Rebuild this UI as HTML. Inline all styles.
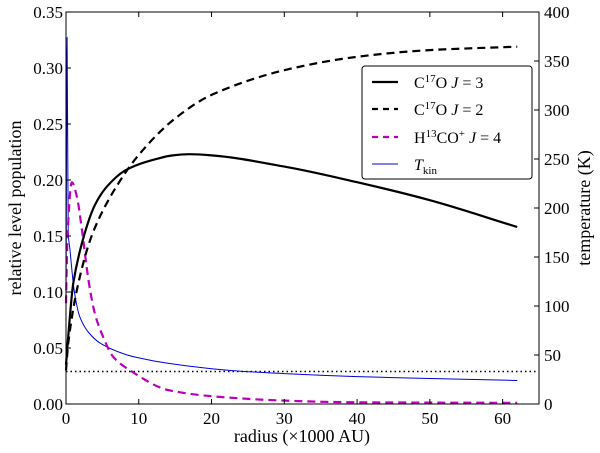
<!DOCTYPE html>
<html><head><meta charset="utf-8"><style>
body{margin:0;background:#fff;width:600px;height:448px;overflow:hidden}
text{font-family:"Liberation Serif",serif;fill:#000}
</style></head><body>
<svg id="chart" width="600" height="448"></svg>
<script>
const rJ3=[0,0.3,1,2.6,4,5.6,8,10,12,14.7,17,20,30,40,50,62];
const vJ3=[0.035,0.06,0.108,0.153,0.178,0.194,0.208,0.214,0.218,0.222,0.223,0.222,0.212,0.198,0.182,0.158];
const rJ2=[0,0.3,1.7,3.7,7.2,10.6,15,20,30,40,50,62];
const vJ2=[0.03,0.054,0.108,0.153,0.197,0.227,0.255,0.276,0.298,0.31,0.316,0.319];
const rH=[0,0.2,0.8,1.5,2.2,3.1,4,5.1,6.5,8.8,14,20,30,40,62];
const vH=[0.09,0.15,0.198,0.185,0.155,0.11,0.08,0.06,0.042,0.03,0.0125,0.007,0.003,0.0015,0.001];
const rT=[0,0.15,0.3,0.55,1.1,1.9,3,4.7,8,10,14,20,25,30,40,50,62];
const vT=[100,374,175,157,117,89,74,62,51,47,41.5,36,33,31,28,26,24];
const xTicks=[0,10,20,30,40,50,60];
const yTicks=[0,0.05,0.1,0.15,0.2,0.25,0.3,0.35];
const tTicks=[0,50,100,150,200,250,300,350,400];
const dottedLevel=0.029;

const L=66,R=539,T=12,B=404;
const X=v=>L+v/65*(R-L);
const Y=v=>B-v/0.35*(B-T);
const YT=v=>B-v/400*(B-T);
const svg=document.getElementById('chart');
const NS='http://www.w3.org/2000/svg';
function mk(tag,attrs,parent){const e=document.createElementNS(NS,tag);for(const k in attrs)e.setAttribute(k,attrs[k]);(parent||svg).appendChild(e);return e;}

function monoPath(px,py){
  const n=px.length,d=[],m=[];
  for(let i=0;i<n-1;i++)d.push((py[i+1]-py[i])/(px[i+1]-px[i]));
  for(let i=0;i<n;i++){
    if(i===0)m.push(d[0]);else if(i===n-1)m.push(d[n-2]);
    else m.push(d[i-1]*d[i]<=0?0:2/(1/d[i-1]+1/d[i]));
  }
  let s='M'+px[0].toFixed(1)+','+py[0].toFixed(1);
  for(let i=0;i<n-1;i++){
    const h=px[i+1]-px[i];
    s+='C'+(px[i]+h/3).toFixed(1)+','+(py[i]+m[i]*h/3).toFixed(1)+' '+(px[i+1]-h/3).toFixed(1)+','+(py[i+1]-m[i+1]*h/3).toFixed(1)+' '+px[i+1].toFixed(1)+','+py[i+1].toFixed(1);
  }
  return s;
}
function line(xs,ys,fy,attrs,name){
  const p=mk('path',Object.assign({d:monoPath(xs.map(X),ys.map(fy)),fill:'none'},attrs));
  
  
}
const dl=mk('line',{x1:L,x2:R,y1:Y(dottedLevel),y2:Y(dottedLevel),stroke:'#000','stroke-width':1.5,'stroke-dasharray':'1.5,3'});


line(rT,vT,YT,{stroke:'#0000dd','stroke-width':1},'series-tkin');
line(rH,vH,Y,{stroke:'#bb00bb','stroke-width':2.2,'stroke-dasharray':'8,5'},'series-h13co-j4');
line(rJ2,vJ2,Y,{stroke:'#000','stroke-width':2.2,'stroke-dasharray':'8,5'},'series-c17o-j2');
line(rJ3,vJ3,Y,{stroke:'#000','stroke-width':2.2},'series-c17o-j3');

const fr=mk('rect',{x:L,y:T,width:R-L,height:B-T,fill:'none',stroke:'#000','stroke-width':1});



xTicks.forEach(v=>{
  mk('line',{x1:X(v),x2:X(v),y1:B,y2:B-5,stroke:'#000'});
  mk('line',{x1:X(v),x2:X(v),y1:T,y2:T+5,stroke:'#000'});
  const t=mk('text',{x:X(v),y:B+20,'text-anchor':'middle','font-size':17});
  t.textContent=v;
  
  
});
yTicks.forEach(v=>{
  mk('line',{x1:L,x2:L+5,y1:Y(v),y2:Y(v),stroke:'#000'});
  const t=mk('text',{x:L-3,y:Y(v)+6,'text-anchor':'end','font-size':17});
  t.textContent=v.toFixed(2);
  
  
});
tTicks.forEach(v=>{
  mk('line',{x1:R,x2:R-5,y1:YT(v),y2:YT(v),stroke:'#000'});
  const t=mk('text',{x:R+5,y:YT(v)+6,'font-size':17});
  t.textContent=v;
  
  
});
</script>
<svg width="600" height="448" style="position:absolute;left:0;top:0">
<text x="302" y="442" text-anchor="middle" font-size="18">radius (×1000 AU)</text>
<text transform="translate(21,208) rotate(-90)" text-anchor="middle" font-size="18">relative level population</text>
<text transform="translate(590,208) rotate(-90)" text-anchor="middle" font-size="18">temperature (K)</text>
<g>
<rect x="362" y="66" width="170" height="113" rx="3" fill="#fff" stroke="#000" stroke-width="1"/>
<line x1="372" x2="398" y1="82" y2="82" stroke="#000" stroke-width="2.2"/>
<text x="414" y="88" font-size="16">C<tspan font-size="11" dy="-6">17</tspan><tspan dy="6">O </tspan><tspan font-style="italic">J</tspan> = 3</text>
<line x1="372" x2="398" y1="109" y2="109" stroke="#000" stroke-width="2.2" stroke-dasharray="6,5"/>
<text x="414" y="115" font-size="16">C<tspan font-size="11" dy="-6">17</tspan><tspan dy="6">O </tspan><tspan font-style="italic">J</tspan> = 2</text>
<line x1="372" x2="398" y1="137" y2="137" stroke="#bb00bb" stroke-width="2.2" stroke-dasharray="6,5"/>
<text x="414" y="143" font-size="16">H<tspan font-size="11" dy="-6">13</tspan><tspan dy="6">CO</tspan><tspan font-size="11" dy="-6">+</tspan><tspan dy="6"> </tspan><tspan font-style="italic">J</tspan> = 4</text>
<line x1="372" x2="398" y1="164" y2="164" stroke="#0000dd" stroke-width="1"/>
<text x="414" y="170" font-size="16"><tspan font-style="italic">T</tspan><tspan font-size="11" dy="4">kin</tspan></text>
</g>
</svg>
</body></html>
